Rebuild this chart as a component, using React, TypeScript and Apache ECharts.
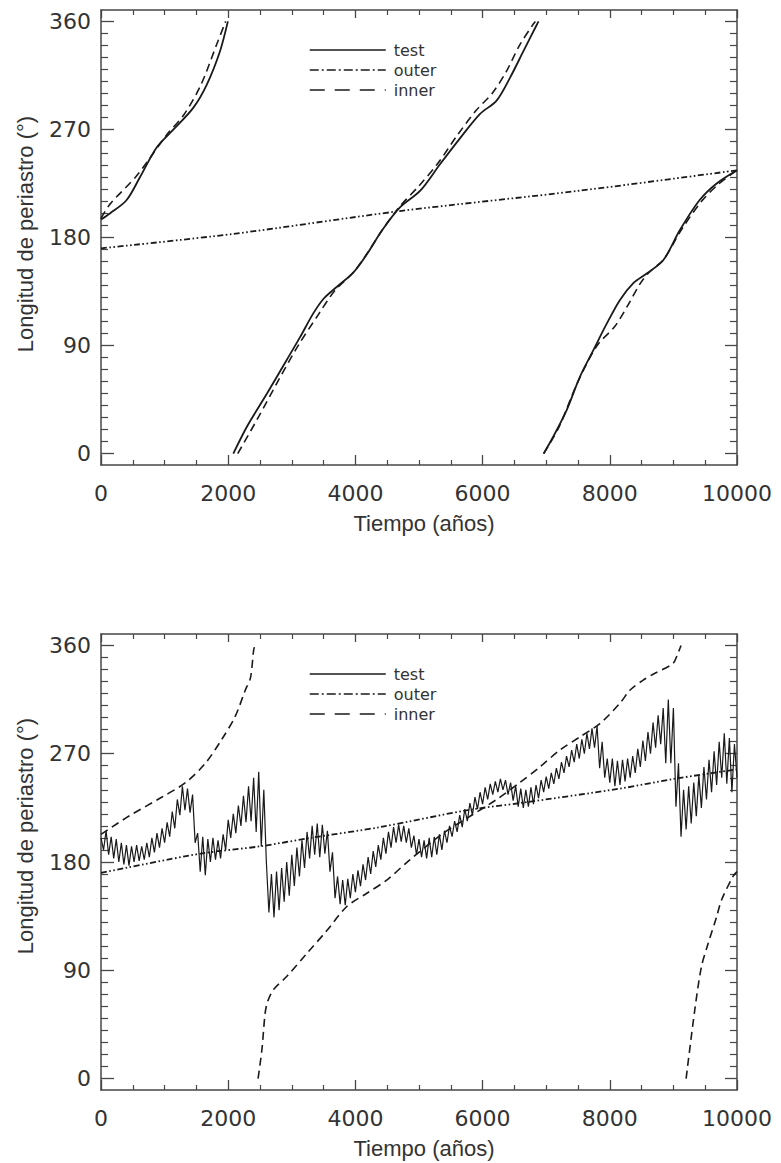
import React, { useEffect, useRef } from "react";
import * as echarts from "echarts";

// ---------- axis ticks ----------
const xMajorTicks = [0, 2000, 4000, 6000, 8000, 10000];
const xMinorTicks = [500, 1000, 1500, 2500, 3000, 3500, 4500, 5000, 5500, 6500, 7000, 7500, 8500, 9000, 9500];
const yMajorTicks = [0, 90, 180, 270, 360];
const yMinorTicks = [
  10, 20, 30, 40, 50, 60, 70, 80,
  100, 110, 120, 130, 140, 150, 160, 170,
  190, 200, 210, 220, 230, 240, 250, 260,
  280, 290, 300, 310, 320, 330, 340, 350,
];
const seriesNames = ["test", "outer", "inner"];

// ---------- top panel data: [years, degrees]; "-" breaks the line at the 360 -> 0 wrap ----------
const topTest: (number | string)[][] = [
  [0, 195], [140, 200], [400, 211], [610, 230], [875, 255], [1140, 270], [1450, 288], [1660, 307],
  [1870, 335], [1995, 360], [2040, "-"],
  [2080, 0], [2300, 23], [2610, 50], [2920, 78], [3130, 97], [3340, 117], [3500, 129], [3710, 139],
  [3970, 151], [4180, 166], [4420, 186], [4700, 205], [5020, 219], [5330, 241], [5650, 263],
  [5960, 283], [6220, 294], [6430, 313], [6640, 335], [6850, 357], [6880, 360], [6920, "-"],
  [6960, 0], [7110, 14], [7320, 36], [7530, 64], [7740, 86], [7950, 108], [8160, 128], [8370, 142],
  [8580, 150], [8840, 161], [9100, 186], [9410, 211], [9680, 225], [10000, 236],
];
const topOuter: number[][] = [
  [0, 171], [2080, 183], [4700, 202], [7530, 219], [10000, 236],
];
const topInner: (number | string)[][] = [
  [0, 196], [145, 208], [570, 232], [1040, 266], [1300, 282], [1570, 307], [1820, 341], [1960, 360], [2050, "-"],
  [2150, 0], [2450, 28], [2800, 62], [3100, 90], [3420, 116], [3680, 136], [3970, 151], [4200, 168],
  [4420, 186], [4700, 206], [5000, 223], [5300, 242], [5600, 265], [5900, 286], [6150, 300],
  [6370, 318], [6580, 340], [6800, 358], [6830, 360], [6900, "-"],
  [6960, 0], [7200, 22], [7500, 60], [7800, 90], [8080, 106], [8300, 125], [8470, 141], [8600, 150],
  [8850, 162], [9120, 186], [9440, 210], [9700, 224], [10000, 236],
];

// ---------- bottom panel data ----------
// test: one reading every TEST_STEP years, from 0 to 10000 years
const TEST_STEP = 40;
const bottomTestValues: number[] = [
  200, 190, 206, 186, 201, 183, 199, 180, 196, 178, 194, 177, 193, 180, 194, 181, 193, 182, 196, 184, 200, 188, 204, 192, 208,
  196, 213, 201, 222, 208, 232, 219, 243, 223, 241, 221, 236, 196, 204, 172, 201, 169, 199, 180, 200, 182, 198, 183, 203, 190,
  215, 200, 220, 204, 227, 210, 235, 213, 243, 214, 250, 205, 255, 193, 240, 180, 138, 170, 134, 172, 140, 175, 147, 180, 152,
  186, 160, 192, 168, 198, 175, 205, 183, 210, 186, 212, 184, 211, 187, 206, 172, 188, 150, 168, 145, 165, 144, 166, 150, 170,
  155, 173, 160, 178, 165, 184, 170, 189, 176, 194, 182, 200, 187, 205, 192, 209, 196, 211, 197, 210, 196, 208, 192, 202, 186,
  199, 184, 198, 183, 200, 184, 201, 186, 203, 190, 206, 196, 210, 201, 214, 205, 219, 209, 224, 214, 229, 219, 234, 224, 238,
  228, 242, 232, 245, 236, 247, 238, 249, 240, 248, 236, 246, 231, 243, 226, 241, 225, 240, 226, 242, 228, 244, 233, 248, 238,
  251, 241, 254, 245, 258, 249, 263, 254, 268, 259, 273, 263, 278, 266, 282, 270, 287, 274, 291, 275, 293, 258, 280, 250, 266,
  246, 266, 243, 264, 244, 265, 247, 266, 250, 268, 254, 274, 259, 281, 264, 288, 270, 296, 275, 302, 278, 308, 262, 315, 262,
  308, 226, 262, 201, 240, 207, 243, 212, 246, 218, 252, 225, 259, 232, 265, 238, 272, 244, 280, 250, 287, 245, 283, 238, 278, 250,
];
const bottomOuter: number[][] = [
  [0, 171], [1570, 187], [2500, 193], [3290, 200], [4390, 209], [5750, 223], [6590, 229],
  [8160, 241], [9000, 249], [10000, 257],
];
const bottomInner: (number | string)[][] = [
  [0, 203], [435, 218], [960, 234], [1330, 246], [1640, 262], [1900, 282], [2110, 301], [2270, 323],
  [2350, 333], [2400, 356], [2420, 360], [2450, "-"],
  [2470, 0], [2530, 24], [2580, 54], [2620, 64], [2713, 74], [2923, 85], [3237, 104], [3551, 123],
  [3865, 143], [4179, 154], [4493, 165], [4860, 182], [5383, 204], [5802, 218], [6221, 232],
  [6560, 245], [6900, 259], [7215, 273], [7530, 284], [7844, 295], [8160, 312], [8320, 323],
  [8520, 331], [8680, 336], [8970, 344], [9020, 347], [9120, 360], [9160, "-"],
  [9200, 0], [9336, 57], [9441, 93], [9545, 112], [9677, 134], [9754, 148], [9937, 168], [10000, 172],
];

// ---------- styles ----------
const TICK_FONT = '"DejaVu Sans", sans-serif';
const TITLE_FONT = '"Liberation Sans", Arial, sans-serif';
const INK = "#1a1a1a";
const FRAME = "#474747";
const TEXT = "#333333";
const OUTER_DASH = [6, 2.5, 1.6, 2.5, 1.6, 2.5];
const INNER_DASH = [8, 5];
const Y_MIN = -9.5;
const Y_MAX = 369.5;

const GRIDS = [
  { left: 101, top: 10, width: 636, height: 455 },
  { left: 101, top: 634, width: 636, height: 456 },
];

function axisPair(kind: "x" | "y", gridIndex: number) {
  const isX = kind === "x";
  const major = isX ? xMajorTicks : yMajorTicks;
  const minor = isX ? xMinorTicks : yMinorTicks;
  const sides = isX ? ["bottom", "top"] : ["left", "right"];
  const majorLen = isX ? [10, 8] : [13, 12];
  const minorLen = isX ? [5, 5] : [7, 7];
  const out: any[] = [];
  sides.forEach((pos, si) => {
    const base = {
      gridIndex,
      type: "value",
      min: isX ? 0 : Y_MIN,
      max: isX ? 10000 : Y_MAX,
      position: pos,
      splitLine: { show: false },
    };
    out.push({
      ...base,
      axisLine: { show: true, onZero: false, lineStyle: { color: FRAME, width: 1.5 } },
      axisTick: { show: true, inside: true, length: majorLen[si], customValues: major, lineStyle: { color: FRAME, width: 1.3 } },
      axisLabel: {
        show: si === 0,
        customValues: major,
        formatter: (v: number) => String(v),
        margin: isX ? 17 : 10,
        fontSize: 22,
        fontFamily: TICK_FONT,
        color: TEXT,
      },
    });
    out.push({
      ...base,
      axisLine: { show: false, onZero: false },
      axisTick: { show: true, inside: true, length: minorLen[si], customValues: minor, lineStyle: { color: FRAME, width: 1.2 } },
      axisLabel: { show: false },
    });
  });
  return out;
}

function panelSeries(g: number, test: any[], outer: any[], inner: any[]) {
  const common = { type: "line", xAxisIndex: g * 4, yAxisIndex: g * 4, symbol: "none", showSymbol: false, connectNulls: false, clip: true };
  return [
    { ...common, name: "outer", data: outer, smooth: 0.3, lineStyle: { color: INK, width: 1.8, type: OUTER_DASH }, itemStyle: { color: INK } },
    { ...common, name: "inner", data: inner, smooth: 0.3, lineStyle: { color: INK, width: 1.6, type: INNER_DASH }, itemStyle: { color: INK } },
    {
      ...common,
      name: "test",
      data: test,
      smooth: g === 0 ? 0.3 : false,
      lineStyle: { color: INK, width: g === 0 ? 1.8 : 1.2, type: "solid" },
      itemStyle: { color: INK },
    },
  ];
}

function legendFor(top: number) {
  return {
    orient: "vertical",
    left: 304,
    top,
    itemWidth: 76,
    itemHeight: 2,
    itemGap: 4,
    selectedMode: false,
    itemStyle: { color: "rgba(0,0,0,0)", borderColor: "rgba(0,0,0,0)", borderWidth: 0, opacity: 0 },
    lineStyle: { width: 1.5 },
    textStyle: { fontFamily: TICK_FONT, fontSize: 16, color: TEXT, lineHeight: 16, padding: [0, 0, 0, 3] },
    data: [
      { name: seriesNames[0] },
      { name: seriesNames[1], lineStyle: { type: [9, 3, 2, 3] } },
      { name: seriesNames[2], lineStyle: { type: [15, 10] } },
    ],
  };
}

function titleText(x: number, y: number, text: string, vertical: boolean) {
  return {
    type: "text",
    x,
    y,
    rotation: vertical ? Math.PI / 2 : 0,
    style: {
      text,
      font: `22px ${TITLE_FONT}`,
      fill: TEXT,
      align: "center",
      verticalAlign: "middle",
    },
  };
}

export default function App() {
  const ref = useRef<HTMLDivElement>(null);
  useEffect(() => {
    document.body.style.margin = "0";
    if (!ref.current) return;
    const chart = echarts.init(ref.current, null, { renderer: "svg" });
    const bottomTest = bottomTestValues.map((v, i) => [i * TEST_STEP, v]);
    chart.setOption({
      animation: false,
      backgroundColor: "#ffffff",
      grid: GRIDS.map((g) => ({ ...g, show: false })),
      xAxis: [...axisPair("x", 0), ...axisPair("x", 1)],
      yAxis: [...axisPair("y", 0), ...axisPair("y", 1)],
      legend: [legendFor(37), legendFor(661)],
      series: [
        ...panelSeries(0, topTest, topOuter, topInner),
        ...panelSeries(1, bottomTest, bottomOuter, bottomInner),
      ],
      graphic: [
        titleText(25, 234, "Longitud de periastro (°)", true),
        titleText(424, 523, "Tiempo (años)", false),
        titleText(25, 836, "Longitud de periastro (°)", true),
        titleText(424, 1148, "Tiempo (años)", false),
      ],
    });
    return () => chart.dispose();
  }, []);
  return <div ref={ref} style={{ position: "absolute", left: 0, top: 0, width: 781, height: 1163 }} />;
}
